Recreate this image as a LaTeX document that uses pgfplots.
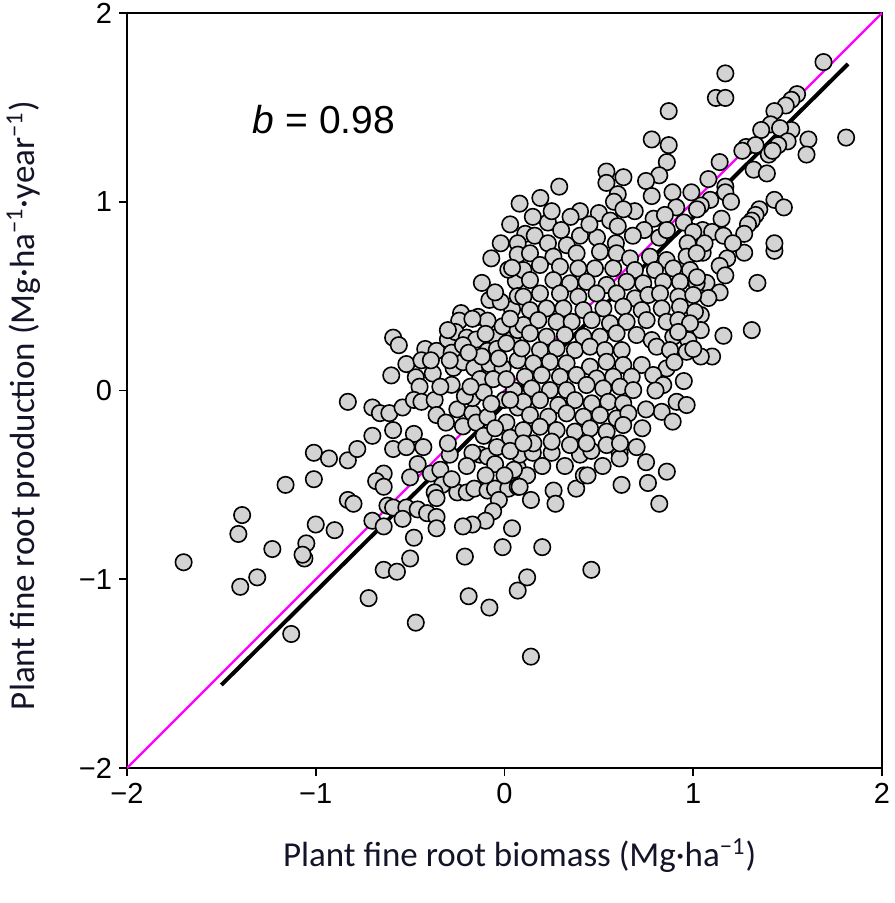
\documentclass[border=0pt]{standalone}
\usepackage{fontspec}
\setmainfont{Liberation Sans}
\newfontfamily\carlito{Carlito}
\usepackage{pgfplots}
\pgfplotsset{compat=1.18}
\definecolor{mfill}{RGB}{211,211,211}
\definecolor{labcol}{RGB}{20,20,40}
\definecolor{brightmag}{RGB}{255,0,255}

\pgfplotstableread{
x y
-1.01 -0.33
-0.93 -0.36
-1.16 -0.50
-1.01 -0.47
-1.39 -0.66
-1.41 -0.76
-1.23 -0.84
-1.05 -0.81
-1.06 -0.89
-1.07 -0.87
-1.00 -0.71
-0.90 -0.74
-1.70 -0.91
-1.31 -0.99
-1.40 -1.04
-1.13 -1.29
-0.83 -0.37
-0.46 -0.39
-0.64 -0.44
-0.68 -0.48
-0.64 -0.51
-0.50 -0.46
-0.39 -0.44
-0.34 -0.42
-0.33 -0.50
-0.37 -0.54
-0.36 -0.57
-0.83 -0.58
-0.80 -0.60
-0.62 -0.61
-0.59 -0.62
-0.52 -0.62
-0.46 -0.63
-0.54 -0.68
-0.41 -0.65
-0.36 -0.67
-0.70 -0.69
-0.64 -0.72
-0.36 -0.73
-0.48 -0.78
-0.50 -0.89
-0.64 -0.95
-0.57 -0.96
-0.72 -1.10
-0.47 -1.23
-0.25 -0.54
-0.20 -0.54
-0.16 -0.52
-0.09 -0.53
-0.05 -0.52
0.02 -0.52
0.07 -0.51
-0.03 -0.58
-0.06 -0.64
-0.10 -0.69
-0.17 -0.71
-0.22 -0.72
0.04 -0.73
-0.01 -0.83
-0.21 -0.88
0.07 -1.06
-0.19 -1.09
-0.08 -1.15
-0.13 -0.34
-0.09 -0.35
-0.05 -0.39
-0.17 -0.33
-0.29 -0.34
0.07 -0.41
0.08 -0.34
0.15 -0.33
0.25 -0.33
0.40 -0.34
0.46 -0.32
0.61 -0.33
0.61 -0.36
0.12 -0.45
0.08 -0.51
0.14 -0.58
0.26 -0.53
0.27 -0.60
0.38 -0.52
0.42 -0.45
0.44 -0.45
0.62 -0.50
0.76 -0.49
0.86 -0.43
0.82 -0.60
0.20 -0.83
0.46 -0.95
0.12 -0.99
0.14 -1.41
1.05 0.73
1.27 0.73
1.43 0.74
1.18 0.70
1.14 0.66
1.07 0.57
1.17 0.61
1.14 0.52
1.08 0.49
1.34 0.57
1.04 0.40
1.04 0.32
1.31 0.32
1.16 0.29
1.10 0.18
1.04 0.18
1.69 1.74
1.17 1.68
1.12 1.55
1.17 1.55
1.55 1.57
1.52 1.54
1.49 1.51
1.43 1.48
1.41 1.41
1.36 1.38
1.52 1.38
1.46 1.39
1.61 1.33
1.81 1.34
1.60 1.25
1.50 1.32
1.45 1.30
1.28 1.29
1.33 1.30
1.26 1.27
1.40 1.25
1.42 1.27
1.14 1.21
1.32 1.17
1.39 1.15
1.08 1.12
1.17 1.08
1.17 1.05
1.20 1.00
1.09 1.01
1.04 0.98
1.43 1.01
1.48 0.97
1.35 0.96
1.33 0.93
1.31 0.90
1.29 0.88
1.15 0.91
1.05 0.85
1.10 0.84
1.27 0.83
1.16 0.82
1.21 0.78
1.43 0.78
1.06 0.78
0.87 1.48
0.78 1.33
0.87 1.30
0.86 1.21
0.54 1.16
0.54 1.10
0.63 1.13
0.82 1.14
0.75 1.11
0.29 1.08
0.19 1.02
0.08 0.99
0.60 1.04
0.58 1.00
0.89 1.05
0.99 1.05
0.78 1.03
0.91 0.97
0.69 0.95
0.40 0.95
0.63 0.96
0.50 0.94
0.79 0.91
0.85 0.93
0.23 0.89
0.56 0.90
0.60 0.87
0.74 0.85
0.95 0.89
0.11 0.83
0.16 0.82
0.40 0.82
0.49 0.81
0.68 0.82
0.82 0.81
1.00 0.84
0.23 0.78
0.33 0.77
0.59 0.78
0.97 0.78
0.86 0.85
1.02 0.96
0.03 0.88
0.07 0.78
-0.07 0.70
-0.12 0.57
-0.08 0.48
0.07 0.72
0.06 0.58
0.04 0.43
0.07 0.50
-0.23 0.41
-0.24 0.37
-0.14 0.39
-0.09 0.37
-0.17 0.38
-0.59 0.28
-0.56 0.24
-0.42 0.22
-0.36 0.21
-0.30 0.27
-0.26 0.31
-0.20 0.28
-0.15 0.27
-0.05 0.28
-0.01 0.34
-0.28 0.20
-0.22 0.24
-0.09 0.21
-0.04 0.22
0.04 0.27
-0.52 0.14
-0.44 0.16
-0.38 0.09
-0.27 0.12
-0.22 0.15
-0.16 0.12
-0.08 0.14
-0.01 0.12
-0.60 0.08
-0.47 0.07
-0.45 0.02
-0.28 0.03
-0.13 0.06
-0.06 0.06
-0.83 -0.06
-0.70 -0.09
-0.66 -0.12
-0.61 -0.12
-0.54 -0.09
-0.48 -0.05
-0.44 -0.06
-0.37 -0.05
-0.36 -0.13
-0.31 -0.17
-0.25 -0.10
-0.17 -0.12
-0.17 -0.04
-0.11 -0.01
-0.21 -0.03
-0.59 -0.21
-0.70 -0.24
-0.48 -0.23
-0.78 -0.31
-0.59 -0.31
-0.52 -0.30
-0.43 -0.30
-0.30 -0.28
-0.22 -0.19
-0.15 -0.17
-0.09 -0.14
0.01 -0.17
0.03 -0.25
-0.11 -0.24
-0.04 -0.30
0.05 0.00
-0.30 0.32
-0.39 0.16
-0.29 0.16
-0.34 0.02
-0.18 0.02
0.02 0.64
0.07 0.32
0.01 0.06
0.07 0.16
0.07 -0.09
0.03 -0.32
0.135 0.727
0.259 0.709
0.382 0.727
0.506 0.735
0.594 0.727
0.665 0.700
0.771 0.709
0.859 0.691
0.965 0.709
1.018 0.727
0.100 0.638
0.188 0.665
0.294 0.656
0.391 0.647
0.479 0.647
0.576 0.647
0.691 0.638
0.797 0.638
0.894 0.647
0.983 0.638
0.135 0.585
0.259 0.585
0.347 0.568
0.435 0.576
0.541 0.559
0.647 0.576
0.735 0.568
0.841 0.576
0.930 0.576
1.018 0.568
0.100 0.497
0.188 0.514
0.294 0.514
0.391 0.497
0.488 0.514
0.594 0.514
0.691 0.488
0.762 0.506
0.824 0.514
0.921 0.497
1.000 0.506
0.135 0.426
0.223 0.435
0.312 0.435
0.418 0.426
0.524 0.435
0.629 0.444
0.727 0.426
0.833 0.435
0.930 0.444
1.009 0.417
0.100 0.347
0.179 0.373
0.276 0.364
0.356 0.364
0.462 0.373
0.559 0.356
0.647 0.364
0.753 0.373
0.859 0.364
0.921 0.373
0.983 0.356
0.135 0.303
0.223 0.285
0.320 0.294
0.418 0.285
0.506 0.285
0.594 0.303
0.700 0.294
0.780 0.267
0.894 0.285
0.974 0.267
0.091 0.223
0.188 0.214
0.276 0.223
0.373 0.214
0.453 0.232
0.532 0.214
0.621 0.214
0.806 0.232
0.877 0.214
0.965 0.205
0.153 0.144
0.241 0.152
0.329 0.144
0.453 0.126
0.541 0.152
0.629 0.135
0.727 0.135
0.859 0.117
0.108 0.073
0.197 0.082
0.294 0.073
0.382 0.082
0.488 0.064
0.576 0.073
0.674 0.073
0.788 0.082
0.144 0.011
0.241 0.002
0.329 0.002
0.435 0.029
0.523 0.011
0.612 0.020
0.682 0.002
0.841 0.029
0.100 -0.060
0.188 -0.051
0.285 -0.077
0.373 -0.051
0.462 -0.068
0.550 -0.060
0.629 -0.068
0.912 -0.060
0.965 -0.077
0.135 -0.130
0.232 -0.139
0.329 -0.121
0.418 -0.139
0.506 -0.130
0.594 -0.148
0.656 -0.121
0.833 -0.113
0.891 -0.165
0.100 -0.210
0.188 -0.192
0.276 -0.210
0.373 -0.218
0.453 -0.201
0.541 -0.218
0.629 -0.183
0.153 -0.280
0.250 -0.271
0.347 -0.289
0.435 -0.280
0.541 -0.289
0.612 -0.280
-0.02 0.47
0.03 0.38
-0.03 0.17
0.00 -0.05
-0.05 -0.20
0.05 -0.42
-0.10 -0.45
-0.20 -0.40
-0.28 -0.47
0.00 -0.45
-0.12 0.18
-0.19 0.20
-0.10 0.30
-0.05 0.52
0.04 0.65
-0.02 0.78
0.01 0.25
0.03 -0.05
-0.07 -0.07
0.10 -0.28
0.20 -0.40
0.32 -0.40
0.52 -0.40
0.70 -0.30
0.75 -0.38
0.80 0.00
0.75 -0.10
0.73 -0.20
0.90 0.15
0.95 0.05
0.92 0.31
1.00 0.22
1.02 0.60
0.35 0.92
0.45 0.88
0.25 0.95
0.30 0.85
0.15 0.92
}\pts

\begin{document}
\begin{tikzpicture}
\begin{axis}[
  name=ax,
  scale only axis, width=377.5pt, height=377.5pt,
  xmin=-2, xmax=2, ymin=-2, ymax=2,
  xtick={-2,-1,0,1,2}, ytick={-2,-1,0,1,2},
  xticklabels={−2,−1,0,1,2}, yticklabels={−2,−1,0,1,2},
  tick pos=left, tick align=outside, major tick length=4pt,
  axis line style={line width=0.8pt},
  every tick/.style={black, line width=0.8pt},
  tick label style={font=\fontsize{14.5}{17}\selectfont},
  xlabel={Plant fine root biomass (Mg·ha\textsuperscript{−1})},
  ylabel={Plant fine root production (Mg·ha\textsuperscript{−1}·year\textsuperscript{−1})},
  every axis x label/.style={at={(axis description cs:0.52,-0.131)}, anchor=base, text=labcol, font=\carlito\fontsize{17.5}{20}\selectfont},
  every axis y label/.style={at={(axis description cs:-0.122,0.48)}, anchor=base, rotate=90, text=labcol, font=\carlito\fontsize{17.5}{20}\selectfont},
]
\addplot[only marks, mark=*, mark size=4.1pt, mark options={fill=mfill, draw=black, line width=0.8pt}] table[x=x, y=y] {\pts};
\addplot[brightmag, line width=1.1pt] coordinates {(-2,-2) (2,2)};
\addplot[black, line width=2pt] coordinates {(-1.50,-1.56) (1.82,1.73)};
\node[anchor=base west, font=\fontsize{19.5}{22}\selectfont] at (axis cs:-1.37,1.364) {\textit{b} = 0.98};
\end{axis}
\pgfresetboundingbox
\path (ax.south west) ++(-63.5pt,-67.5pt) rectangle ++(447pt,451.5pt);
\end{tikzpicture}
\end{document}
